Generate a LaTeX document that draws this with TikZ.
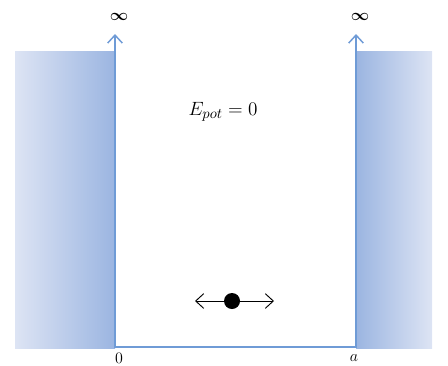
\documentclass[tikz,border=0pt]{standalone}
\usepackage{amsmath}
\usetikzlibrary{arrows.meta}
\definecolor{wallline}{HTML}{6F9BD6}
\definecolor{walldark}{HTML}{9BB5E1}
\definecolor{walllight}{HTML}{DDE4F4}
\tikzset{
  wallfill/.style={draw=none},
  walledge/.style={draw=wallline, line width=1.1pt, {Straight Barb[length=6pt,width=11pt]}-{Straight Barb[length=6pt,width=11pt]}},
  lbl/.style={inner sep=0pt, font=\fontsize{13}{15}\selectfont},
  motion/.style={draw=black, line width=0.7pt, {Straight Barb[length=6pt,width=11pt]}-{Straight Barb[length=6pt,width=11pt]}},
  ball/.style={circle, fill=black, minimum size=12pt, inner sep=0pt}
}
\begin{document}
\begin{tikzpicture}[x=0.75pt,y=-0.75pt]
\useasboundingbox (0,0) rectangle (448,365);
% walls
\shade[wallfill, left color=walllight, right color=walldark] (15,51) rectangle (115,348);
\shade[wallfill, left color=walldark, right color=walllight] (356,51) rectangle (432,348);
% well outline
\coordinate (Ltop) at (115,34);
\coordinate (L0) at (115,347);
\coordinate (R0) at (356,347);
\coordinate (Rtop) at (356,34);
\draw[walledge] (Ltop) -- (L0) -- (R0) -- (Rtop);
% labels
\node[lbl] (infL) at (119,17) {$\boldsymbol{\infty}$};
\node[lbl] (infR) at (360,17) {$\boldsymbol{\infty}$};
\node[lbl] (zero) at (119,358) {$0$};
\node[lbl] (aa) at (354,358) {$a$};
\node[inner sep=0pt, font=\fontsize{15}{18}\selectfont] (epot) at (223,112) {$E_{pot}=0$};
% particle
\coordinate (pc) at (232,301);
\coordinate (mL) at (195,301);
\coordinate (mR) at (274,301);
\draw[motion] (mL) -- (mR);
\node[ball] (p) at (pc) {};
\end{tikzpicture}
\end{document}
